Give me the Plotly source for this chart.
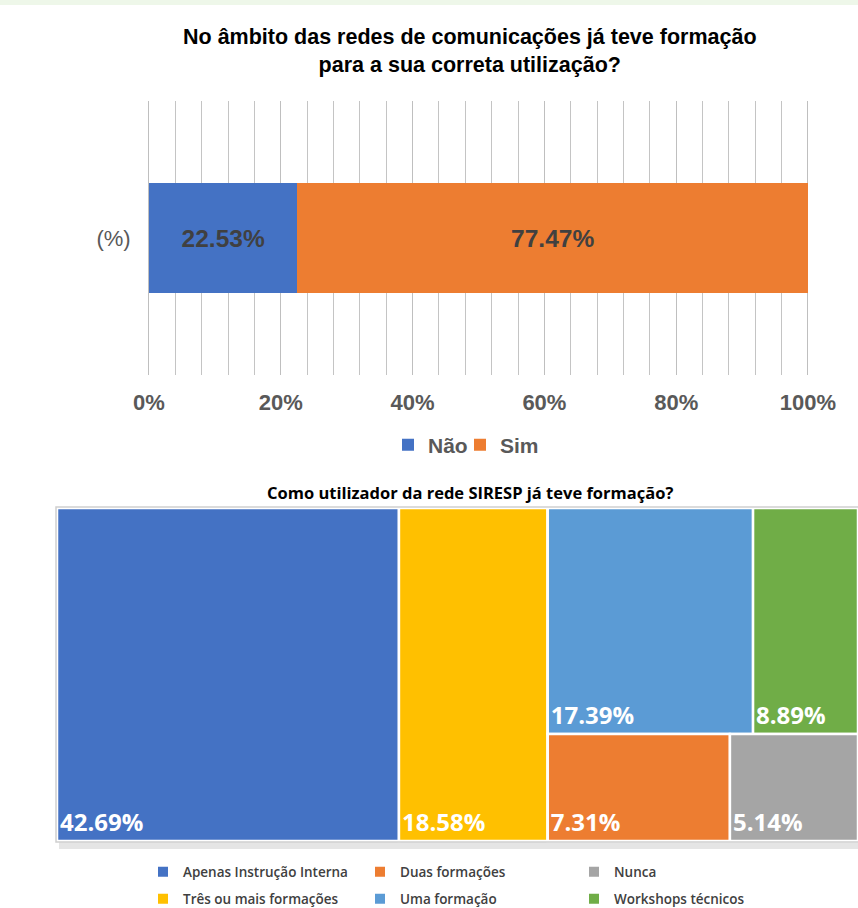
import plotly.graph_objects as go

W, H = 858, 908

# ---------------- data: top chart ----------------
bar_category = ["(%)"]
bar_series = ["Não", "Sim"]
bar_values = [22.53, 77.47]
bar_colors = ["#4472C4", "#ED7D31"]
x_tick_vals = [0, 20, 40, 60, 80, 100]
x_tick_text = ["0%", "20%", "40%", "60%", "80%", "100%"]

# ---------------- data: treemap ----------------
tm_labels = ["Apenas Instrução Interna", "Três ou mais formações", "Uma formação",
             "Workshops técnicos", "Duas formações", "Nunca"]
tm_values = [42.69, 18.58, 17.39, 8.89, 7.31, 5.14]
tm_colors = ["#4472C4", "#FFC000", "#5B9BD5", "#70AD47", "#ED7D31", "#A5A5A5"]
tm_parents = ["", "", "sup", "sup", "inf", "inf"]
# grouping nodes (no value of their own)
grp_ids = ["grupo", "sup", "inf"]
grp_parents = ["", "grupo", "grupo"]

legend_rows = [["Apenas Instrução Interna", "Duas formações", "Nunca"],
               ["Três ou mais formações", "Uma formação", "Workshops técnicos"]]


def px_x(p):
    return p / W


def px_y(p):
    return 1 - p / H


SYM_OFF = 20  # distance from legend box left edge to symbol centre (plotly default)

fig = go.Figure()
layout_legends = {}

# ---- stacked bar ----
top_leg_sym_x = [408, 480]
top_font = "Liberation Sans, Arial"
for i, (name, val, col) in enumerate(zip(bar_series, bar_values, bar_colors)):
    lid = "legend" if i == 0 else "legend2"
    fig.add_trace(go.Bar(
        y=bar_category, x=[val], name=name, orientation="h",
        marker=dict(color=col, line=dict(width=0)),
        text=[f"{val:.2f}%"], textposition="inside", insidetextanchor="middle",
        textfont=dict(family=top_font, size=24.5, color="#404040", weight="bold"),
        legend=lid, showlegend=True, hoverinfo="skip"))
    layout_legends[lid] = dict(
        x=px_x(top_leg_sym_x[i] - SYM_OFF), xanchor="left", y=px_y(445), yanchor="middle",
        font=dict(family=top_font, size=21, color="#595959", weight="bold"),
        itemwidth=30, bgcolor="rgba(0,0,0,0)")

# ---- treemap ----
ids = [tm_labels[0], tm_labels[1]] + grp_ids + tm_labels[2:]
parents = [tm_parents[0], tm_parents[1]] + grp_parents + tm_parents[2:]
values = [tm_values[0], tm_values[1]] + [0, 0, 0] + tm_values[2:]
colors = [tm_colors[0], tm_colors[1]] + ["#FFFFFF"] * 3 + tm_colors[2:]
texts = [f"{tm_values[0]:.2f}%", f"{tm_values[1]:.2f}%"] + [""] * 3 + [f"{v:.2f}%" for v in tm_values[2:]]

tm_x0, tm_x1 = px_x(57), 1.0
tm_y0, tm_y1 = px_y(841), px_y(508)

fig.add_trace(go.Treemap(
    ids=ids, labels=ids, parents=parents, values=values,
    branchvalues="remainder", sort=False,
    text=texts, texttemplate="%{text}", textposition="bottom left",
    textfont=dict(family="Open Sans, Noto Sans", size=24, color="white", weight="bold"),
    marker=dict(colors=colors, line=dict(width=2.5, color="white"),
                pad=dict(t=0, l=0, r=0, b=0)),
    tiling=dict(packing="slice-dice", pad=0),
    pathbar=dict(visible=False),
    root=dict(color="white"),
    hoverinfo="skip",
    domain=dict(x=[tm_x0, tm_x1], y=[tm_y0, tm_y1])))

# ---- legend entries for treemap (one legend per entry, in a 3x2 grid) ----
cmap = dict(zip(tm_labels, tm_colors))
col_sym_x = [163, 380, 594]
row_y = [872, 899]
leg_font = dict(family="Open Sans, Noto Sans", size=13.5, color="#404040", weight=600)
n = 3
for r, row in enumerate(legend_rows):
    for c, lab in enumerate(row):
        lid = f"legend{n}"
        n += 1
        fig.add_trace(go.Scatter(
            x=[None], y=[None], mode="markers", name=lab,
            marker=dict(symbol="square", size=10, color=cmap[lab]),
            legend=lid, hoverinfo="skip"))
        layout_legends[lid] = dict(
            x=px_x(col_sym_x[c] - SYM_OFF), xanchor="left", y=px_y(row_y[r]), yanchor="middle",
            font=leg_font, itemwidth=30, bgcolor="rgba(0,0,0,0)")

# x axis: 0% at px 149 and 100% at px 808, with a small range pad so the
# edge gridlines (0% and 100%) are drawn
X0_PX, X100_PX, RPAD = 149, 808, 0.5
ppu = (X100_PX - X0_PX) / 100.0

fig.update_layout(
    width=W, height=H,
    margin=dict(l=0, r=0, t=0, b=0, autoexpand=False),
    paper_bgcolor="white", plot_bgcolor="white",
    barmode="stack", bargap=0.6,
    xaxis=dict(domain=[px_x(X0_PX - RPAD * ppu), px_x(X100_PX + RPAD * ppu)], range=[-RPAD, 100 + RPAD],
               tickvals=x_tick_vals, ticktext=x_tick_text,
               showgrid=True, gridcolor="#BFBFBF", gridwidth=1, zeroline=False, showline=False,
               minor=dict(dtick=4, showgrid=True, gridcolor="#C4C4C4", gridwidth=1),
               ticks="outside", ticklen=8, tickcolor="rgba(0,0,0,0)",
               tickfont=dict(family=top_font, size=22, color="#595959", weight="bold"),
               fixedrange=True, automargin=False),
    yaxis=dict(domain=[px_y(375), px_y(101)], showgrid=False, zeroline=False, showline=False,
               ticks="outside", ticklen=13 - RPAD * ppu, tickcolor="rgba(0,0,0,0)",
               tickfont=dict(family=top_font, size=22, color="#595959"), automargin=False),
    annotations=[
        dict(text="No âmbito das redes de comunicações já teve formação<br>para a sua correta utilização?",
             xref="paper", yref="paper", x=px_x(470), y=px_y(51), xanchor="center", yanchor="middle",
             showarrow=False,
             font=dict(family=top_font, size=21.5, color="#000000", weight="bold")),
        dict(text="Como utilizador da rede SIRESP já teve formação?", xref="paper", yref="paper",
             x=px_x(470), y=px_y(492), xanchor="center", yanchor="middle", showarrow=False,
             font=dict(family="Open Sans, Noto Sans", size=16.5, color="#000000", weight="bold")),
    ],
    shapes=[
        dict(type="rect", xref="paper", yref="paper", x0=tm_x0 - 1 / W, x1=tm_x1 + 0.01,
             y0=tm_y0 - 1 / H, y1=tm_y1 + 1 / H, line=dict(color="#D0D0D0", width=1.5),
             fillcolor="rgba(0,0,0,0)", layer="above"),
        dict(type="rect", xref="paper", yref="paper", x0=tm_x0 + 2 / W, x1=tm_x1 + 0.01,
             y0=tm_y0 - 8 / H, y1=tm_y0 - 1 / H, line=dict(width=0),
             fillcolor="rgba(0,0,0,0.10)", layer="below"),
        dict(type="rect", xref="paper", yref="paper", x0=0, x1=1, y0=px_y(5), y1=1,
             line=dict(width=0), fillcolor="#EEF7E9", layer="below"),
    ],
    **layout_legends,
)

fig.write_html("out.html")
